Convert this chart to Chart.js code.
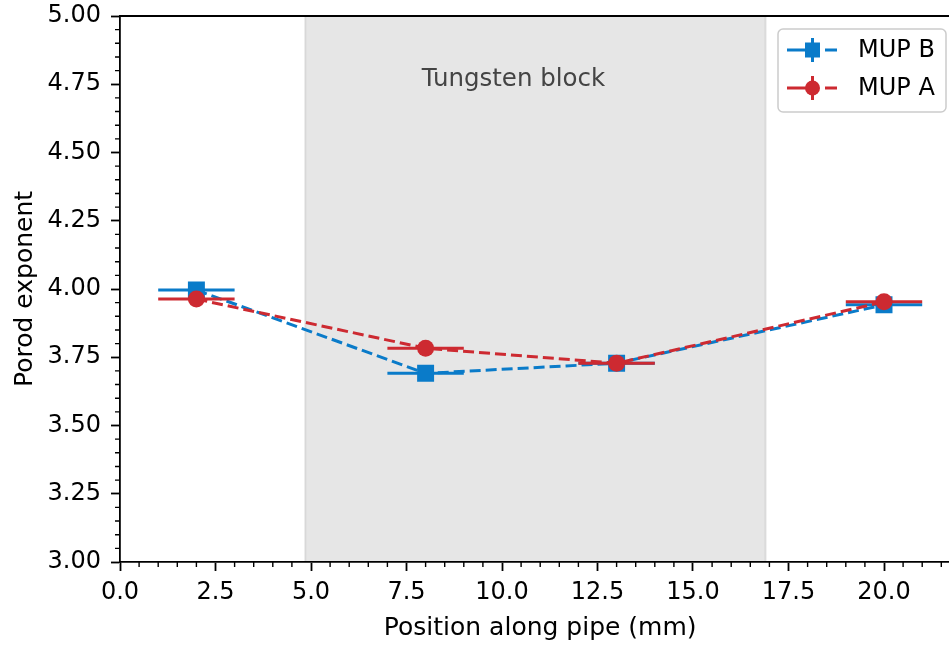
<!DOCTYPE html>
<html><head><meta charset="utf-8">
<script src="https://cdn.jsdelivr.net/npm/chart.js@4/dist/chart.umd.min.js"></script>
<style>
html,body{margin:0;padding:0;overflow:hidden;background:#fff}
#wrap{width:949px;height:648px;overflow:hidden;position:relative}
canvas{display:block}
</style></head>
<body><div id="wrap"><canvas id="c" width="961" height="648"></canvas></div>
<script>
// ---- data ----
const positions = [2, 8, 13, 20];           // mm
const mupB = [3.996, 3.691, 3.728, 3.942];  // Porod exponent, MUP B
const mupA = [3.963, 3.783, 3.728, 3.953];  // Porod exponent, MUP A
const xErr = [1, 1, 1, 1];                  // mm, half-width of x error bars
const seriesNames = ['MUP B', 'MUP A'];
const xTicks = [0, 2.5, 5, 7.5, 10, 12.5, 15, 17.5, 20];
const yTicks = [3.00, 3.25, 3.50, 3.75, 4.00, 4.25, 4.50, 4.75, 5.00];
const xRange = [0, 22];
const yRange = [3, 5];
const blockRange = [4.85, 16.9];
const blockLabel = 'Tungsten block';
const blockLabelPos = [10.3, 4.744];
const xTitle = 'Position along pipe (mm)';
const yTitle = 'Porod exponent';

const BLUE = '#0a7bc9';
const RED = '#cd2a31';
const FONT = '"DejaVu Sans", sans-serif';

const xMinor = []; for (let i = 0; i <= 44; i++) xMinor.push(i * 0.5);
const yMinor = []; for (let i = 0; i <= 40; i++) yMinor.push(3 + i * 0.05);

const shadePlugin = {
  id: 'shade',
  beforeDatasetsDraw(chart) {
    const {ctx, chartArea: a, scales: {x, y}} = chart;
    const x0 = x.getPixelForValue(blockRange[0]);
    const x1 = x.getPixelForValue(blockRange[1]);
    ctx.save();
    ctx.fillStyle = 'rgba(128,128,128,0.2)';
    ctx.fillRect(x0, a.top + 1, x1 - x0, a.bottom - a.top - 2);
    ctx.strokeStyle = 'rgba(128,128,128,0.2)';
    ctx.lineWidth = 2;
    ctx.beginPath();
    ctx.moveTo(x0, a.top + 1); ctx.lineTo(x0, a.bottom - 1);
    ctx.moveTo(x1, a.top + 1); ctx.lineTo(x1, a.bottom - 1);
    ctx.stroke();
    ctx.fillStyle = '#444';
    ctx.font = '24.5px ' + FONT;
    ctx.textAlign = 'center';
    ctx.textBaseline = 'alphabetic';
    ctx.fillText(blockLabel, x.getPixelForValue(blockLabelPos[0]), y.getPixelForValue(blockLabelPos[1]));
    ctx.restore();
  }
};

const errPlugin = {
  id: 'errbars',
  beforeDatasetDraw(chart, args) {
    const ds = chart.data.datasets[args.index];
    const {ctx, scales: {x, y}} = chart;
    ctx.save();
    ctx.strokeStyle = ds.borderColor;
    ctx.lineWidth = 3;
    ctx.beginPath();
    ds.data.forEach((p, i) => {
      const py = y.getPixelForValue(p.y);
      ctx.moveTo(x.getPixelForValue(p.x - xErr[i]), py);
      ctx.lineTo(x.getPixelForValue(p.x + xErr[i]), py);
    });
    ctx.stroke();
    ctx.restore();
  }
};

const decoPlugin = {
  id: 'deco',
  afterDraw(chart) {
    const {ctx, chartArea: a, scales: {x, y}} = chart;
    ctx.save();
    // top spine
    ctx.strokeStyle = '#000';
    ctx.lineWidth = 1.8;
    ctx.beginPath();
    ctx.moveTo(a.left - 0.9, a.top); ctx.lineTo(a.right, a.top);
    ctx.stroke();
    // minor ticks
    ctx.lineWidth = 1.4;
    ctx.beginPath();
    xMinor.forEach(v => {
      if (xTicks.some(t => Math.abs(t - v) < 1e-9)) return;
      const px = x.getPixelForValue(v);
      ctx.moveTo(px, a.bottom); ctx.lineTo(px, a.bottom + 5);
    });
    yMinor.forEach(v => {
      if (yTicks.some(t => Math.abs(t - v) < 1e-9)) return;
      const py = y.getPixelForValue(v);
      ctx.moveTo(a.left, py); ctx.lineTo(a.left - 5, py);
    });
    ctx.stroke();
    // legend
    const bx = 778, by = 29, bw = 168, bh = 83, r = 5;
    ctx.beginPath();
    ctx.roundRect(bx, by, bw, bh, r);
    ctx.fillStyle = 'rgba(255,255,255,0.8)';
    ctx.fill();
    ctx.strokeStyle = '#cccccc';
    ctx.lineWidth = 1.5;
    ctx.stroke();
    const rows = [{c: BLUE, y: 50, sq: true}, {c: RED, y: 88, sq: false}];
    rows.forEach((row, i) => {
      ctx.strokeStyle = row.c; ctx.fillStyle = row.c; ctx.lineWidth = 3;
      ctx.beginPath();
      ctx.moveTo(787, row.y); ctx.lineTo(819, row.y);
      ctx.moveTo(825, row.y); ctx.lineTo(837, row.y);
      ctx.moveTo(812.5, row.y - 12); ctx.lineTo(812.5, row.y + 12);
      ctx.stroke();
      ctx.beginPath();
      if (row.sq) ctx.rect(812.5 - 7.5, row.y - 7.5, 15, 15);
      else ctx.arc(812.5, row.y, 7.5, 0, Math.PI * 2);
      ctx.fill();
      ctx.fillStyle = '#000';
      ctx.font = '24px ' + FONT;
      ctx.textAlign = 'left';
      ctx.textBaseline = 'middle';
      ctx.fillText(seriesNames[i], 858, row.y + 1);
    });
    ctx.restore();
  }
};

const toPts = arr => positions.map((p, i) => ({x: p, y: arr[i]}));

new Chart(document.getElementById('c'), {
  type: 'scatter',
  data: {
    datasets: [
      {label: seriesNames[0], data: toPts(mupB), showLine: true, order: 2,
       borderColor: BLUE, backgroundColor: BLUE, borderWidth: 3, borderDash: [11, 5],
       pointStyle: 'rect', pointRadius: 12, pointHoverRadius: 12, pointBorderWidth: 0,
       pointBackgroundColor: BLUE},
      {label: seriesNames[1], data: toPts(mupA), showLine: true, order: 1,
       borderColor: RED, backgroundColor: RED, borderWidth: 3, borderDash: [11, 5],
       pointStyle: 'circle', pointRadius: 8.5, pointHoverRadius: 8.5, pointBorderWidth: 0,
       pointBackgroundColor: RED}
    ]
  },
  options: {
    responsive: false,
    animation: false,
    devicePixelRatio: 1,
    layout: {autoPadding: false, padding: {top: 16, left: 0, right: 0.6, bottom: 0}},
    plugins: {legend: {display: false}, tooltip: {enabled: false}},
    scales: {
      x: {
        type: 'linear', min: xRange[0], max: xRange[1],
        afterFit: s => { s.height = 86; s.paddingLeft = 0; s.paddingRight = 0; },
        afterBuildTicks: s => { s.ticks = xTicks.map(v => ({value: v})); },
        ticks: {color: '#000', font: {family: FONT, size: 24}, padding: 7,
                maxRotation: 0, autoSkip: false, callback: v => Number(v).toFixed(1)},
        grid: {drawOnChartArea: false, drawTicks: true, tickLength: 9, tickColor: '#000', tickWidth: 1.8},
        border: {display: true, color: '#000', width: 1.8},
        title: {display: true, text: xTitle, color: '#000', font: {family: FONT, size: 25, lineHeight: 1},
                padding: {top: 0, bottom: 7.5}}
      },
      y: {
        type: 'linear', min: yRange[0], max: yRange[1],
        afterFit: s => { s.width = 120; s.paddingTop = 0; s.paddingBottom = 0; },
        afterBuildTicks: s => { s.ticks = yTicks.map(v => ({value: v})); },
        ticks: {color: '#000', font: {family: FONT, size: 24}, padding: 10,
                autoSkip: false, callback: v => Number(v).toFixed(2)},
        grid: {drawOnChartArea: false, drawTicks: true, tickLength: 9, tickColor: '#000', tickWidth: 1.8},
        border: {display: true, color: '#000', width: 1.8},
        title: {display: true, text: yTitle, color: '#000', font: {family: FONT, size: 25, lineHeight: 1},
                padding: {top: 13, bottom: 0}}
      }
    }
  },
  plugins: [shadePlugin, errPlugin, decoPlugin]
});
</script>
</body></html>
